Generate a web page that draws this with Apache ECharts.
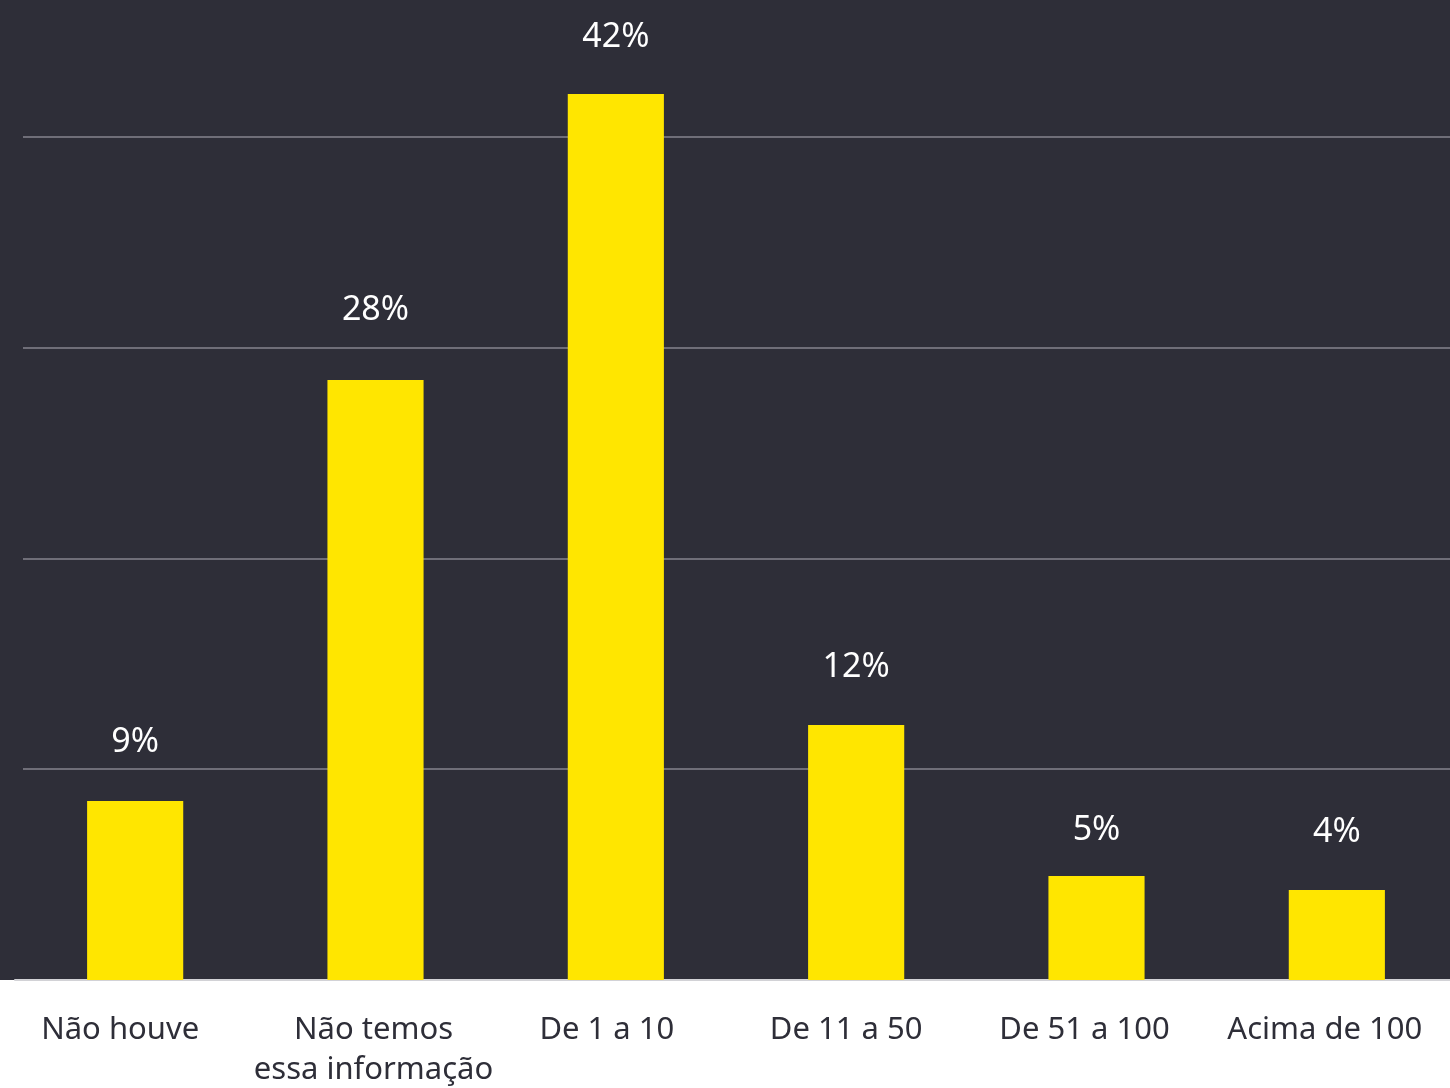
<!DOCTYPE html>
<html>
<head>
<meta charset="utf-8">
<script src="https://cdn.jsdelivr.net/npm/echarts@6/dist/echarts.min.js"></script>
<style>
html,body{margin:0;padding:0;background:#ffffff;}
#chart{width:1450px;height:1088px;}
</style>
</head>
<body>
<div id="chart"></div>
<script>
const categories = ['Não houve', 'Não temos\nessa informação', 'De 1 a 10', 'De 11 a 50', 'De 51 a 100', 'Acima de 100'];
const values = [8.49, 28.47, 42.04, 12.10, 4.93, 4.27];
const valueLabels = ['9%', '28%', '42%', '12%', '5%', '4%'];
const yTicks = [0, 10, 20, 30, 40];
const yMax = 46.5;

const FONT = '"Noto Sans", "Open Sans", sans-serif';
const chart = echarts.init(document.getElementById('chart'), null, {renderer: 'canvas'});

const labelDistance = [42, 53, 40, 41, 29, 41];
const catLabelPadRight = [30, 4, 18, 20, 24, 24];

const option = {
  animation: false,
  backgroundColor: '#ffffff',
  grid: [
    {left: 15, width: 1442, top: 0, bottom: 108, containLabel: false, outerBoundsMode: 'none'},
    {left: 23, right: 0, top: 0, bottom: 108, containLabel: false, outerBoundsMode: 'none'},
    {left: 0, right: 0, top: 0, bottom: 108, show: true, backgroundColor: '#2e2e38', borderWidth: 0, z: -1, outerBoundsMode: 'none'}
  ],
  xAxis: [
    {
      type: 'category', gridIndex: 0,
      data: categories.map((c, i) => ({value: c, textStyle: {padding: [0, catLabelPadRight[i], 0, 0]}})),
      axisLine: {show: true, lineStyle: {color: '#d2d2d6', width: 2}},
      axisTick: {show: false},
      axisLabel: {interval: 0, color: '#2e2e38', fontFamily: FONT, fontSize: 31, lineHeight: 40, margin: 30}
    },
    {type: 'value', gridIndex: 1, show: false, min: 0, max: 1},
    {type: 'value', gridIndex: 2, show: false, min: 0, max: 1}
  ],
  yAxis: [
    {type: 'value', gridIndex: 0, min: 0, max: yMax, interval: 10, show: false, splitLine: {show: false}},
    {
      type: 'value', gridIndex: 1, min: yTicks[0], max: yMax, interval: yTicks[1] - yTicks[0],
      axisLine: {show: false}, axisTick: {show: false}, axisLabel: {show: false},
      splitLine: {show: true, showMinLine: false, showMaxLine: false, lineStyle: {color: '#6f6e78', width: 2}}
    },
    {type: 'value', gridIndex: 2, show: false, min: 0, max: 1}
  ],
  series: [{
    type: 'bar',
    xAxisIndex: 0, yAxisIndex: 0,
    barWidth: '40%',
    itemStyle: {color: '#ffe600'},
    data: values.map((v, i) => ({
      value: v,
      label: {
        show: true, position: 'top', distance: labelDistance[i],
        formatter: valueLabels[i],
        color: '#ffffff', fontFamily: FONT, fontSize: 34
      }
    }))
  }]
};
chart.setOption(option);
</script>
</body>
</html>
